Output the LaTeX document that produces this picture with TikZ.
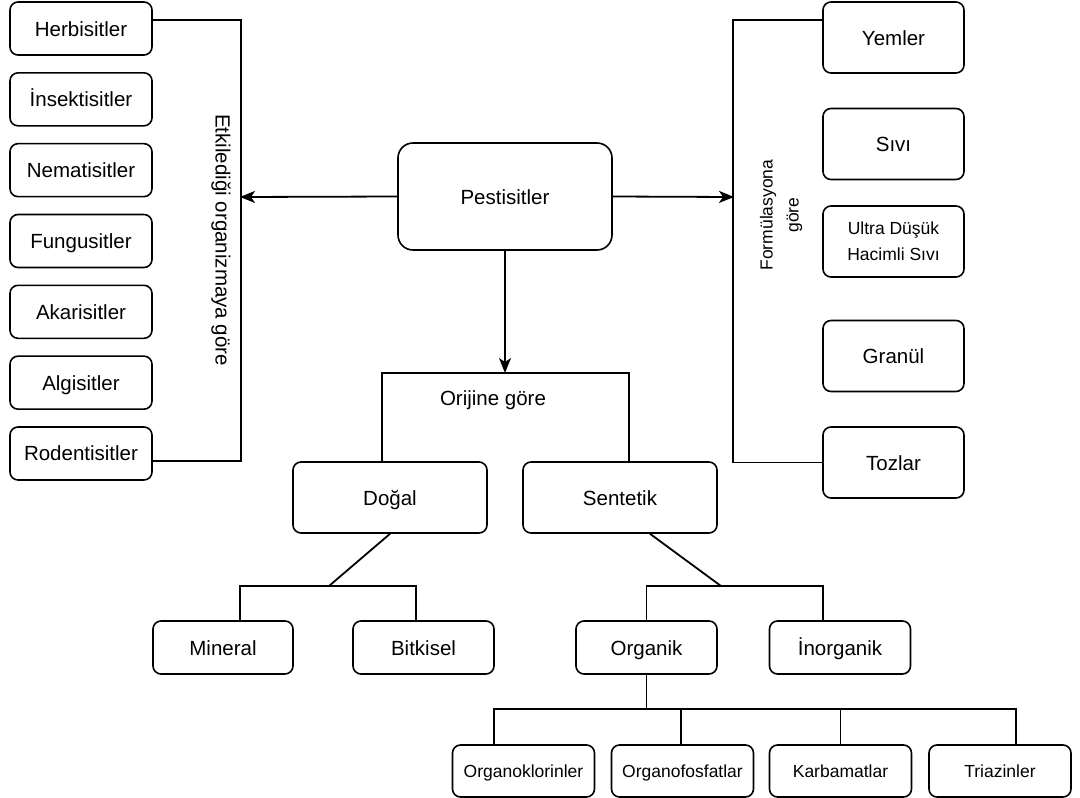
\documentclass[tikz,border=0pt]{standalone}
\usepackage{fontspec}
\setmainfont{Liberation Sans}
\usetikzlibrary{arrows.meta}

\begin{document}
\begin{tikzpicture}[x=1pt,y=-1pt,line width=1.8pt]
	\tikzstyle{box} = [draw=black,rounded corners=8pt,line width=1.6pt,align=center,text height=19pt,text depth=4pt,font=\fontsize{20.5}{24}\selectfont]
	\tikzstyle{smallbox} = [box,text height=16pt,text depth=3.5pt,font=\fontsize{17.5}{26}\selectfont]
	\tikzstyle{arr} = [-{Stealth[length=15pt,width=12pt,inset=4pt]}]
	\useasboundingbox (0,0) rectangle (1080,798);
	% centre
	\node[box,minimum width=214pt,minimum height=107pt,rounded corners=15pt] (pest) at (505,196.5) {Pestisitler};
	% target organism
	\foreach \name/\txt [count=\i] in {herb/Herbisitler,ins/İnsektisitler,nem/Nematisitler,fun/Fungusitler,aka/Akarisitler,alg/Algisitler,rod/Rodentisitler}
		\node[box,minimum width=142pt,minimum height=53pt] (\name) at (81,{28.5+70.83*(\i-1)}) {\txt};
	\draw ([yshift=8.5pt]herb.east) -- ++(88,0) |- ([yshift=-7.5pt]rod.east);
	\coordinate (lbar) at (240,197);
	\draw[arr] (pest.west) -- (lbar);
	\node[rotate=-90,font=\fontsize{20.5}{24}\selectfont] (etki) at (221,240) {Etkilediği organizmaya göre};
	% formulation
	\foreach \name/\txt/\y in {yem/Yemler/37.5,siv/Sıvı/144,gra/Granül/356,toz/Tozlar/462.5}
		\node[box,minimum width=141pt,minimum height=71pt] (\name) at (893.5,\y) {\txt};
	\node[smallbox,text height=,text depth=,minimum width=141pt,minimum height=71pt] (ulv) at (893.5,241.5) {Ultra Düşük\\Hacimli Sıvı};
	\draw ([yshift=17.5pt]yem.west) -- ++(-89,0) |- (toz.west);
	\coordinate (rbar) at (734,197);
	\draw[arr] (pest.east) -- (rbar);
	\node[rotate=90,align=center,font=\fontsize{17.5}{26}\selectfont] (form) at (781,215) {Formülasyona\\göre};
	% origin
	\node[box,minimum width=194pt,minimum height=71pt] (dogal) at (390,497.5) {Doğal};
	\node[box,minimum width=194pt,minimum height=71pt] (sent) at (620,497.5) {Sentetik};
	\coordinate (orig) at (505,373);
	\draw[arr] (pest.south) -- (orig);
	\draw ([xshift=-8pt]dogal.north) |- (orig) -| ([xshift=9pt]sent.north);
	\node[font=\fontsize{20.5}{24}\selectfont] (orjl) at (493,400) {Orijine göre};
	% natural
	\node[box,minimum width=140pt,minimum height=53pt] (min) at (223,647.5) {Mineral};
	\node[box,minimum width=141pt,minimum height=53pt] (bit) at (423.5,647.5) {Bitkisel};
	\coordinate (dj) at (329,586);
	\draw (dogal.south) -- (dj);
	\draw ([xshift=17pt]min.north) |- (dj) -| ([xshift=-7.5pt]bit.north);
	% synthetic
	\node[box,minimum width=141pt,minimum height=53pt] (org) at (646.5,647.5) {Organik};
	\node[box,minimum width=141pt,minimum height=53pt] (inorg) at (840,647.5) {İnorganik};
	\coordinate (sj) at (721,586);
	\draw ([xshift=30pt]sent.south) -- (sj);
	\draw (org.north) |- (sj) -| ([xshift=-17pt]inorg.north);
	% organic groups
	\foreach \name/\txt/\x in {okl/Organoklorinler/523.5,ofs/Organofosfatlar/682.5,kar/Karbamatlar/840.5,tri/Triazinler/1000}
		\node[smallbox,minimum width=142pt,minimum height=52pt] (\name) at (\x,771) {\txt};
	\coordinate (oj) at (646.5,709);
	\draw (org.south) -- (oj);
	\draw ([xshift=-29.5pt]okl.north) |- (oj) -| ([xshift=16pt]tri.north);
	\draw ([xshift=-1.5pt]ofs.north) -- ([xshift=-1.5pt]ofs.north |- oj);
	\draw (kar.north) -- (kar.north |- oj);
\end{tikzpicture}
\end{document}
